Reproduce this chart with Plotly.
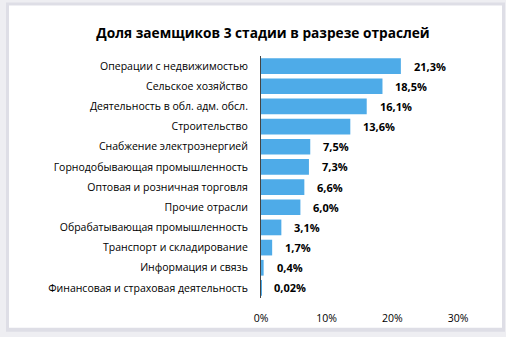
import plotly.graph_objects as go

categories = [
    "Операции с недвижимостью",
    "Сельское хозяйство",
    "Деятельность в обл. адм. обсл.",
    "Строительство",
    "Снабжение электроэнергией",
    "Горнодобывающая промышленность",
    "Оптовая и розничная торговля",
    "Прочие отрасли",
    "Обрабатывающая промышленность",
    "Транспорт и складирование",
    "Информация и связь",
    "Финансовая и страховая деятельность",
]
values = [21.3, 18.5, 16.1, 13.6, 7.5, 7.3, 6.6, 6.0, 3.1, 1.7, 0.4, 0.02]
value_labels = ["21,3%", "18,5%", "16,1%", "13,6%", "7,5%", "7,3%", "6,6%", "6,0%",
                "3,1%", "1,7%", "0,4%", "0,02%"]
tick_vals = [0, 10, 20, 30]
tick_text = ["0%", "10%", "20%", "30%"]
title = "Доля заемщиков 3 стадии в разрезе отраслей"

W, H = 506, 337
L, R, T, B = 261, 48, 56, 37
pw, ph = W - L - R, H - T - B

def px(xp):
    return (xp - L) / pw

def py(yp):
    return (H - B - yp) / ph

fig = go.Figure()
fig.add_trace(go.Bar(
    x=values, y=categories, orientation="h",
    marker=dict(color="#4EABE8", line=dict(width=0)),
    hoverinfo="skip",
))

for v, c, t in zip(values, categories, value_labels):
    fig.add_annotation(x=v, y=c, text="<b>" + t + "</b>", showarrow=False,
                       xanchor="left", yanchor="middle", xshift=11,
                       font=dict(family="Open Sans", size=11, color="#000000"))

# card background with soft shadow
fig.add_shape(type="rect", xref="paper", yref="paper", layer="below",
              x0=px(6), x1=px(505), y0=py(2), y1=py(334),
              fillcolor="#dedee6", line=dict(width=0))
fig.add_shape(type="rect", xref="paper", yref="paper", layer="below",
              x0=px(9), x1=px(502), y0=py(5), y1=py(330),
              fillcolor="#ffffff", line=dict(width=0))

fig.update_layout(
    width=W, height=H,
    margin=dict(l=L, r=R, t=T, b=B),
    paper_bgcolor="#eeeef2",
    plot_bgcolor="rgba(0,0,0,0)",
    showlegend=False,
    bargap=0.22,
    title=dict(text="<b>" + title + "</b>", x=263 / W, xanchor="center",
               y=1 - 33 / H, yanchor="middle", xref="container", yref="container",
               font=dict(family="Open Sans", size=13.7, color="#000000")),
    font=dict(family="Open Sans", size=10.5, color="#000000"),
)
fig.update_xaxes(range=[0, 30], tickvals=tick_vals, ticktext=tick_text,
                 showgrid=False, zeroline=False, showline=False,
                 ticks="", ticklabelstandoff=12,
                 tickfont=dict(family="Open Sans", size=10.5, color="#000000"))
fig.update_yaxes(autorange="reversed", showgrid=False, zeroline=False,
                 showline=True, linecolor="#444444", linewidth=1,
                 ticks="", ticklabelstandoff=10,
                 tickfont=dict(family="Open Sans", size=10.5, color="#000000"))

fig.write_html("out.html")
